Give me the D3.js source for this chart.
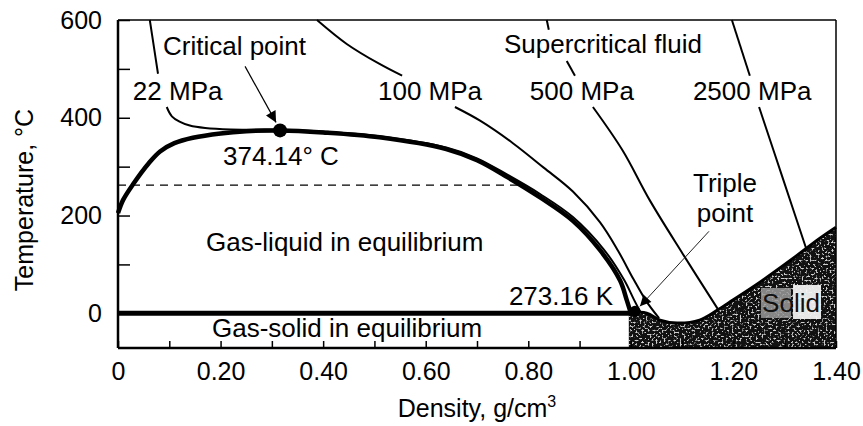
<!DOCTYPE html>
<html>
<head>
<meta charset="utf-8">
<script src="https://cdn.jsdelivr.net/npm/d3@7"></script>
<style>
  html, body { margin: 0; padding: 0; background: #fff; }
  svg { display: block; font-family: "Liberation Sans", Arial, Helvetica, sans-serif; }
</style>
</head>
<body>
<svg id="chart" width="863" height="426"></svg>
<script>
// Phase diagram of water: temperature (°C) against density (g/cm³)

// Axis ticks and labels
const densityTicks = [0, 0.1, 0.2, 0.3, 0.4, 0.5, 0.6, 0.7, 0.8, 0.9, 1.0, 1.1, 1.2, 1.3, 1.4];
const densityLabels = ["0", "", "0.20", "", "0.40", "", "0.60", "", "0.80", "", "1.00", "", "1.20", "", "1.40"];
const tempTicks = [0, 100, 200, 300, 400, 500, 600];
const tempLabels = ["0", "", "200", "", "400", "", "600"];

// Gas-liquid coexistence curve: vapour branch, then liquid branch
const vaporBranch = [[0, 205], [0.01, 232], [0.03, 265], [0.06, 307], [0.082, 331], [0.11, 348],
                     [0.146, 359], [0.2, 368], [0.25, 372.5], [0.316, 374.14]];
const liquidBranch = [[0.316, 374.14], [0.4, 370], [0.51, 360], [0.64, 336], [0.70, 313], [0.76, 278],
                      [0.823, 237], [0.887, 189], [0.94, 129], [0.979, 67], [0.992, 27], [1.0, 0]];

// Isobars, each split into pieces around their labels
const isobar22 = [
  [[0.062, 600], [0.070, 545], [0.078, 490]],
  [[0.095, 422], [0.105, 403], [0.12, 392], [0.14, 384], [0.17, 379], [0.22, 376], [0.316, 375.5],
   [0.4, 372], [0.51, 362], [0.64, 339], [0.70, 317], [0.76, 283], [0.823, 244], [0.887, 197],
   [0.947, 131], [0.987, 68], [1.006, 28], [1.02, 0]]
];
const isobar100 = [
  [[0.388, 600], [0.446, 551], [0.51, 510], [0.554, 486]],
  [[0.657, 422], [0.706, 394], [0.77, 348], [0.83, 298], [0.887, 249], [0.94, 186], [0.975, 128],
   [1.005, 70], [1.03, 25], [1.055, -10]]
];
const isobar500 = [
  [[0.836, 600], [0.840, 580]],
  [[0.875, 516], [0.891, 486]],
  [[0.926, 422], [0.984, 333], [1.037, 231], [1.101, 122], [1.17, 8]]
];
const isobar2500 = [
  [[1.197, 600], [1.232, 486]],
  [[1.25, 422], [1.296, 277], [1.342, 132]]
];

// Upper edge of the solid region
const solidEdge = [[0.996, 3], [1.031, 0], [1.057, -14], [1.09, -20], [1.134, -14], [1.168, 6],
                   [1.199, 27], [1.251, 63], [1.316, 112], [1.368, 153], [1.4, 176]];

// Special points and reference lines
const criticalPoint = [0.316, 374.14];
const triplePoint = [1.008, 4];
const gasSolidLine = [[0, 0], [1.0, 0]];
const dashedIsotherm = [[0, 262], [0.79, 262]];

// Text placed in data space
const notes = [
  { text: "Critical point", at: [0.0877, 528], anchor: "start" },
  { text: "22 MPa", at: [0.029, 436], anchor: "start" },
  { text: "374.14° C", at: [0.2047, 303], anchor: "start" },
  { text: "100 MPa", at: [0.507, 436], anchor: "start" },
  { text: "Supercritical fluid", at: [0.7526, 532], anchor: "start" },
  { text: "500 MPa", at: [0.803, 436], anchor: "start" },
  { text: "2500 MPa", at: [1.121, 436], anchor: "start" },
  { text: "Triple", at: [1.1836, 248], anchor: "middle" },
  { text: "point", at: [1.1836, 187], anchor: "middle" },
  { text: "273.16 K", at: [0.9652, 17], anchor: "end" },
  { text: "Gas-liquid in equilibrium", at: [0.1716, 127], anchor: "start" },
  { text: "Gas-solid in equilibrium", at: [0.1833, -48], anchor: "start" }
];
const solidNote = { text: "Solid", at: [1.3123, 2.7] };

const svg = d3.select("#chart");
const x = d3.scaleLinear().domain([0, 1.4]).range([118, 836]);
const y = d3.scaleLinear().domain([-71, 600]).range([348, 20]);

const defs = svg.append("defs");
const grain = defs.append("filter").attr("id", "grain")
  .attr("x", 0).attr("y", 0).attr("width", "100%").attr("height", "100%");
grain.append("feTurbulence").attr("type", "fractalNoise").attr("baseFrequency", 0.5)
  .attr("numOctaves", 3).attr("seed", 11).attr("result", "noise");
grain.append("feColorMatrix").attr("in", "noise").attr("type", "matrix")
  .attr("values", "0 0 0 0 1  0 0 0 0 1  0 0 0 0 1  6 0 0 0 -3.2").attr("result", "speck");
grain.append("feComposite").attr("in", "speck").attr("in2", "SourceGraphic").attr("operator", "in");

const arrowHead = defs.append("marker").attr("id", "head")
  .attr("viewBox", "0 0 10 10").attr("refX", 10).attr("refY", 5)
  .attr("markerWidth", 13).attr("markerHeight", 11).attr("markerUnits", "userSpaceOnUse")
  .attr("orient", "auto");
arrowHead.append("path").attr("d", "M0,0 L10,5 L0,10 Z").attr("fill", "#000");

const line = d3.line().x(d => x(d[0])).y(d => y(d[1])).curve(d3.curveCatmullRom.alpha(0.5));
const straight = d3.line().x(d => x(d[0])).y(d => y(d[1]));

// Solid region
const solidArea = d3.area().x(d => x(d[0])).y0(y(-71)).y1(d => y(d[1]))
  .curve(d3.curveCatmullRom.alpha(0.5));
svg.append("path").datum(solidEdge).attr("d", solidArea).attr("fill", "#111");
svg.append("path").datum(solidEdge).attr("d", solidArea).attr("fill", "#fff")
  .attr("filter", "url(#grain)").attr("opacity", 0.8);

// Label patch inside the solid region
const sx = x(solidNote.at[0]), sy = y(solidNote.at[1]);
svg.append("rect").attr("x", sx - 30).attr("y", sy - 24).attr("width", 30).attr("height", 30)
  .attr("fill", "#9a9a9a").attr("opacity", 0.85);
svg.append("rect").attr("x", sx + 2).attr("y", sy - 27).attr("width", 28).attr("height", 34)
  .attr("fill", "#f2f2f2").attr("opacity", 0.95);
svg.append("text").attr("x", sx).attr("y", sy).attr("text-anchor", "middle")
  .attr("font-size", 26).attr("fill", "#111").text(solidNote.text);

svg.append("path").datum(solidEdge).attr("d", line)
  .attr("fill", "none").attr("stroke", "#000").attr("stroke-width", 3);

// Dashed isotherm
svg.append("path").datum(dashedIsotherm).attr("d", straight)
  .attr("stroke", "#000").attr("stroke-width", 1.2).attr("stroke-dasharray", "8,6");

// Isobars
[isobar22, isobar100, isobar500, isobar2500].forEach(pieces => {
  pieces.forEach(seg => {
    svg.append("path").datum(seg).attr("d", line)
      .attr("fill", "none").attr("stroke", "#000").attr("stroke-width", 2);
  });
});

// Coexistence dome
svg.append("path").datum(vaporBranch.concat(liquidBranch.slice(1))).attr("d", line)
  .attr("fill", "none").attr("stroke", "#000").attr("stroke-width", 4.5);

// Gas-solid line at 0 °C
svg.append("path").datum(gasSolidLine).attr("d", straight)
  .attr("stroke", "#000").attr("stroke-width", 5);

// Critical and triple points
svg.append("circle").attr("cx", x(criticalPoint[0])).attr("cy", y(criticalPoint[1]))
  .attr("r", 7).attr("fill", "#000");
svg.append("circle").attr("cx", x(triplePoint[0])).attr("cy", y(triplePoint[1]))
  .attr("r", 5.5).attr("fill", "#000");

// Arrows
svg.append("line")
  .attr("x1", x(criticalPoint[0]) - 35).attr("y1", y(criticalPoint[1]) - 64)
  .attr("x2", x(criticalPoint[0]) - 4).attr("y2", y(criticalPoint[1]) - 8)
  .attr("stroke", "#000").attr("stroke-width", 1.2).attr("marker-end", "url(#head)");
svg.append("line")
  .attr("x1", x(triplePoint[0]) + 74).attr("y1", y(triplePoint[1]) - 80)
  .attr("x2", x(triplePoint[0]) + 5).attr("y2", y(triplePoint[1]) - 5)
  .attr("stroke", "#222").attr("stroke-width", 1).attr("marker-end", "url(#head)");

// Annotations
svg.append("g").selectAll("text").data(notes).join("text")
  .attr("x", d => x(d.at[0])).attr("y", d => y(d.at[1]))
  .attr("text-anchor", d => d.anchor).attr("font-size", 26).attr("fill", "#000")
  .text(d => d.text);

// Axes with inward ticks
const yAxis = d3.axisLeft(y).tickValues(tempTicks).tickSizeInner(-12).tickSizeOuter(0).tickPadding(16)
  .tickFormat((d, i) => tempLabels[i]);
const gy = svg.append("g").attr("transform", `translate(${x(0)},0)`).call(yAxis);
const xAxis = d3.axisBottom(x).tickValues(densityTicks).tickSizeInner(-7).tickSizeOuter(0).tickPadding(14)
  .tickFormat((d, i) => densityLabels[i]);
const gx = svg.append("g").attr("transform", `translate(0,${y(-71)})`).call(xAxis);
[gx, gy].forEach(g => {
  g.select(".domain").remove();
  g.selectAll(".tick line").attr("stroke", "#000").attr("stroke-width", 1.5);
  g.selectAll(".tick text").attr("font-size", 25).attr("fill", "#000")
    .attr("font-family", "\"Liberation Sans\", Arial, Helvetica, sans-serif");
});

// Frame
const frame = svg.append("g").attr("stroke", "#000");
frame.append("line").attr("x1", x(0)).attr("x2", x(1.4)).attr("y1", y(600)).attr("y2", y(600)).attr("stroke-width", 1.5);
frame.append("line").attr("x1", x(1.4)).attr("x2", x(1.4)).attr("y1", y(600)).attr("y2", y(-71)).attr("stroke-width", 1.5);
frame.append("line").attr("x1", x(0)).attr("x2", x(0)).attr("y1", y(600)).attr("y2", y(-71)).attr("stroke-width", 2.5);
frame.append("line").attr("x1", x(0)).attr("x2", x(1.4)).attr("y1", y(-71)).attr("y2", y(-71)).attr("stroke-width", 2.5);

// Axis titles
const xTitle = svg.append("text").attr("x", 477).attr("y", 417).attr("text-anchor", "middle")
  .attr("font-size", 25);
xTitle.append("tspan").text("Density, g/cm");
xTitle.append("tspan").attr("font-size", 16).attr("dy", -10).text("3");
svg.append("text").attr("transform", "translate(33,200) rotate(-90)").attr("text-anchor", "middle")
  .attr("font-size", 25).text("Temperature, °C");
</script>
</body>
</html>
